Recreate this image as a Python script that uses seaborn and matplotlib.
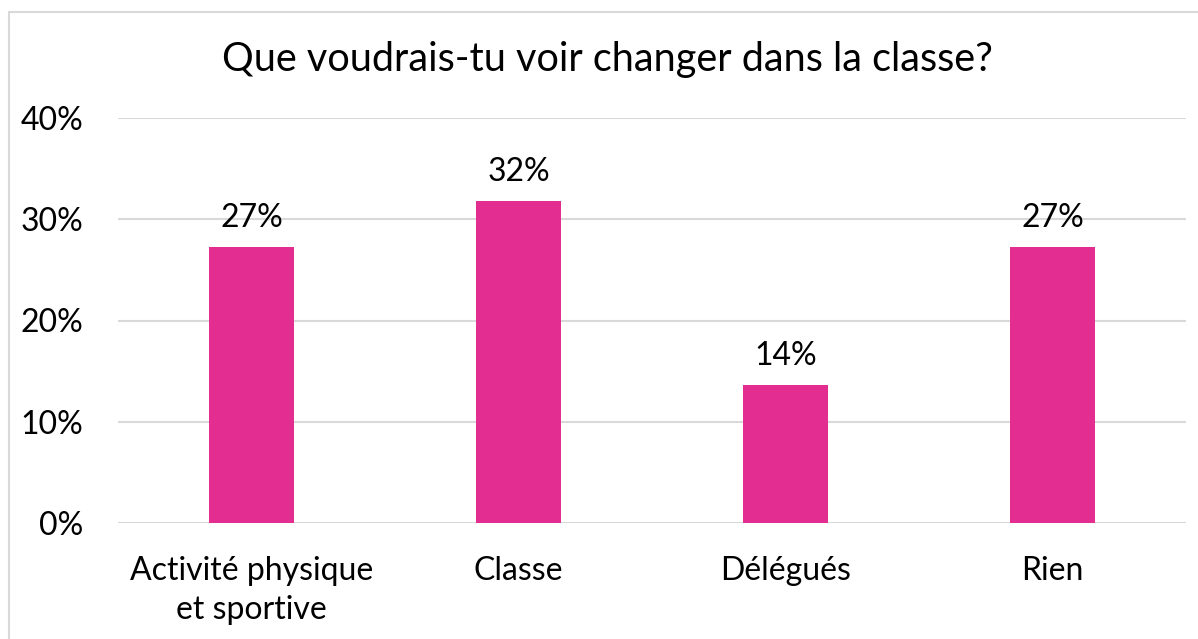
import matplotlib
matplotlib.use("Agg")
import matplotlib.pyplot as plt
import seaborn as sns
import pandas as pd
from matplotlib.patches import Rectangle
from matplotlib.ticker import FuncFormatter

categories = ["Activité physique\net sportive", "Classe", "Délégués", "Rien"]
values = [27.3, 31.8, 13.6, 27.3]
labels = ["27%", "32%", "14%", "27%"]
yticks = [0, 10, 20, 30, 40]

sns.set_theme(style="white")
plt.rcParams['font.family'] = ['Lato', 'DejaVu Sans']

df = pd.DataFrame({"cat": categories, "val": values})

fig = plt.figure(figsize=(11.98, 6.39), dpi=100)
ax = fig.add_axes([118/1198, 1-523/639, (1186-118)/1198, (523-118)/639])

sns.barplot(data=df, x="cat", y="val", color="#E32D91", width=0.32, ax=ax,
            saturation=1, edgecolor="none")

ax.set_ylim(0, 40)
ax.set_xlim(-0.5, 3.5)
ax.set_yticks(yticks)
ax.yaxis.set_major_formatter(FuncFormatter(lambda v, p: f"{int(v)}%"))
ax.grid(axis="y", color="#d9d9d9", linewidth=1.5)
ax.set_axisbelow(True)
for s in ax.spines.values():
    s.set_visible(False)
ax.tick_params(axis="both", length=0, labelsize=23, colors="#000000")
ax.tick_params(axis="y", pad=25)
ax.tick_params(axis="x", pad=24)
for t in ax.get_xticklabels():
    t.set_linespacing(1.35)
ax.set_xlabel("")
ax.set_ylabel("")

for i, (v, l) in enumerate(zip(values, labels)):
    ax.annotate(l, (i, v), xytext=(0, 10), textcoords="offset points",
                ha="center", va="bottom", fontsize=23, color="#000000")

fig.text(607/1198, 1-60/639, "Que voudrais-tu voir changer dans la classe?",
         ha="center", va="center", fontsize=28.5, color="#000000")

fig.patches.append(Rectangle((9/1198, -0.1), 1.2, 1-12/639+0.1,
                             transform=fig.transFigure, fill=False,
                             edgecolor="#d9d9d9", linewidth=1.5))

fig.savefig("out.png", dpi=100, facecolor="white")
